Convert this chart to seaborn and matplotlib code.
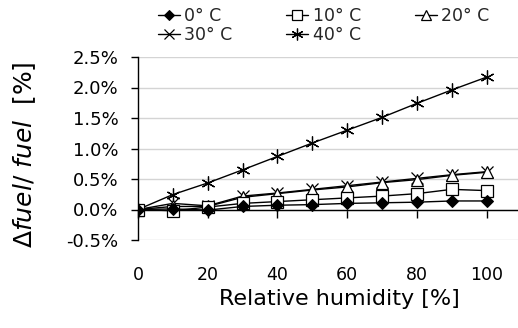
import matplotlib
matplotlib.use("Agg")
import matplotlib.pyplot as plt
import seaborn as sns
import pandas as pd
from matplotlib.ticker import FuncFormatter

sns.set_theme(style="white")
plt.rcParams['font.family'] = ['DejaVu Sans']
plt.rcParams['mathtext.fontset'] = 'dejavusans'

humidity = [0, 10, 20, 30, 40, 50, 60, 70, 80, 90, 100]
t0 = [0.0, 0.01, -0.01, 0.05, 0.07, 0.08, 0.10, 0.11, 0.12, 0.14, 0.14]
t10 = [0.0, -0.02, 0.04, 0.10, 0.13, 0.16, 0.19, 0.22, 0.26, 0.33, 0.31]
t20 = [0.0, 0.05, 0.05, 0.20, 0.26, 0.32, 0.37, 0.44, 0.49, 0.56, 0.61]
t30 = [0.0, 0.10, 0.06, 0.22, 0.27, 0.33, 0.39, 0.45, 0.51, 0.57, 0.62]
t40 = [0.0, 0.245, 0.435, 0.65, 0.87, 1.09, 1.30, 1.51, 1.74, 1.96, 2.17]
labels = ["0° C", "10° C", "20° C", "30° C", "40° C"]

series = {labels[0]: t0, labels[1]: t10, labels[2]: t20, labels[3]: t30, labels[4]: t40}

styles = {
    labels[0]: dict(marker="D", markersize=6.5, markerfacecolor="black", markeredgecolor="black"),
    labels[1]: dict(marker="s", markersize=8, markerfacecolor="white", markeredgecolor="black", markeredgewidth=0.9),
    labels[2]: dict(marker="^", markersize=9, markerfacecolor="white", markeredgecolor="black", markeredgewidth=0.9),
    labels[3]: dict(marker="x", markersize=8, markeredgecolor="black", markeredgewidth=0.9),
    labels[4]: dict(marker=(6, 2, 0), markersize=10, markeredgecolor="black", markeredgewidth=0.9),
}

fig = plt.figure(figsize=(5.18, 3.28), dpi=100)
ax = fig.add_axes([138/518, 88/328, 380/518, 183/328])

draw_order = [labels[4], labels[3], labels[2], labels[1], labels[0]]
for lab in draw_order:
    df = pd.DataFrame({"rh": humidity, "val": series[lab]})
    sns.lineplot(data=df, x="rh", y="val", ax=ax, color="black", linewidth=1.0,
                 label=lab, **styles[lab])

ax.set_xlim(0, 109)
ax.set_ylim(-0.5, 2.5)
ax.set_yticks([-0.5, 0, 0.5, 1.0, 1.5, 2.0, 2.5])
ax.yaxis.set_major_formatter(FuncFormatter(lambda v, p: f"{v:.1f}%"))
ax.set_xticks([0, 20, 40, 60, 80, 100])

ax.grid(axis="y", color="#d4d4d4", linewidth=1.0)
ax.grid(axis="x", visible=False)
for s in ["top", "right"]:
    ax.spines[s].set_visible(False)
ax.spines["bottom"].set_position(("data", 0))
ax.spines["bottom"].set_color("black")
ax.spines["bottom"].set_linewidth(1.0)
ax.spines["left"].set_color("black")
ax.spines["left"].set_linewidth(1.0)

ax.tick_params(axis="x", direction="out", length=6, width=1, color="black", pad=34.5,
               labelsize=12.5, labelcolor="black", bottom=True)
ax.tick_params(axis="y", direction="out", length=5, width=1, color="black", pad=9,
               labelsize=13, labelcolor="black", left=True)

ax.set_xlabel("Relative humidity [%]", fontsize=16, color="black")
ax.xaxis.set_label_coords(0.529, -0.27)
ax.set_ylabel(r"$\Delta\mathit{fuel}$/ $\mathit{fuel}$  [%]", fontsize=18, color="black")
ax.yaxis.set_label_coords(-0.263, 0.464)

leg = ax.get_legend()
if leg is not None:
    leg.remove()
h, l = ax.get_legend_handles_labels()
hd = dict(zip(l, h))
order = [labels[0], labels[3], labels[1], labels[4], labels[2]]
fig.legend([hd[k] for k in order], order, ncol=3, frameon=False,
           loc="upper left", bbox_to_anchor=(151/518, 1.0), fontsize=12.5,
           handlelength=1.27, handletextpad=0.25, columnspacing=3.1,
           labelspacing=0.05, borderaxespad=0, markerscale=0.85)

fig.savefig("out.png", dpi=100)
